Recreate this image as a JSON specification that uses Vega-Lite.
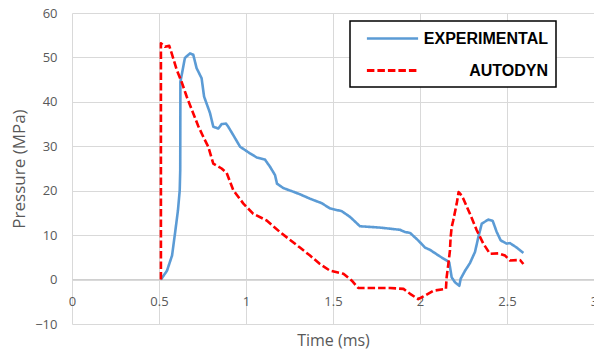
{
  "$schema": "https://vega.github.io/schema/vega-lite/v6.json",
  "width": 522,
  "height": 311,
  "autosize": {"type": "none"},
  "padding": {"left": 72, "top": 13, "right": 0, "bottom": 26},
  "background": "white",
  "config": {
    "view": {"stroke": null},
    "font": "Open Sans",
    "legend": {"strokeWidth": 1.5}
  },
  "data": {
    "values": [
      {"s": "EXPERIMENTAL", "i": 1, "t": 0.511, "p": 0},
      {"s": "EXPERIMENTAL", "i": 2, "t": 0.546, "p": 2},
      {"s": "EXPERIMENTAL", "i": 3, "t": 0.575, "p": 5.4},
      {"s": "EXPERIMENTAL", "i": 4, "t": 0.592, "p": 10.4},
      {"s": "EXPERIMENTAL", "i": 5, "t": 0.609, "p": 15.6},
      {"s": "EXPERIMENTAL", "i": 6, "t": 0.619, "p": 20},
      {"s": "EXPERIMENTAL", "i": 7, "t": 0.622, "p": 24.6},
      {"s": "EXPERIMENTAL", "i": 8, "t": 0.623, "p": 44.5},
      {"s": "EXPERIMENTAL", "i": 9, "t": 0.649, "p": 49.9},
      {"s": "EXPERIMENTAL", "i": 10, "t": 0.678, "p": 50.9},
      {"s": "EXPERIMENTAL", "i": 11, "t": 0.697, "p": 50.6},
      {"s": "EXPERIMENTAL", "i": 12, "t": 0.716, "p": 47.6},
      {"s": "EXPERIMENTAL", "i": 13, "t": 0.745, "p": 45.3},
      {"s": "EXPERIMENTAL", "i": 14, "t": 0.759, "p": 41.2},
      {"s": "EXPERIMENTAL", "i": 15, "t": 0.793, "p": 37.5},
      {"s": "EXPERIMENTAL", "i": 16, "t": 0.812, "p": 34.4},
      {"s": "EXPERIMENTAL", "i": 17, "t": 0.841, "p": 34.0},
      {"s": "EXPERIMENTAL", "i": 18, "t": 0.86, "p": 35.0},
      {"s": "EXPERIMENTAL", "i": 19, "t": 0.885, "p": 35.1},
      {"s": "EXPERIMENTAL", "i": 20, "t": 0.898, "p": 34.4},
      {"s": "EXPERIMENTAL", "i": 21, "t": 0.927, "p": 32.5},
      {"s": "EXPERIMENTAL", "i": 22, "t": 0.966, "p": 29.9},
      {"s": "EXPERIMENTAL", "i": 23, "t": 1.023, "p": 28.4},
      {"s": "EXPERIMENTAL", "i": 24, "t": 1.061, "p": 27.5},
      {"s": "EXPERIMENTAL", "i": 25, "t": 1.109, "p": 27.0},
      {"s": "EXPERIMENTAL", "i": 26, "t": 1.138, "p": 25.4},
      {"s": "EXPERIMENTAL", "i": 27, "t": 1.167, "p": 23.5},
      {"s": "EXPERIMENTAL", "i": 28, "t": 1.178, "p": 21.6},
      {"s": "EXPERIMENTAL", "i": 29, "t": 1.214, "p": 20.6},
      {"s": "EXPERIMENTAL", "i": 30, "t": 1.27, "p": 19.8},
      {"s": "EXPERIMENTAL", "i": 31, "t": 1.31, "p": 19.2},
      {"s": "EXPERIMENTAL", "i": 32, "t": 1.368, "p": 18.2},
      {"s": "EXPERIMENTAL", "i": 33, "t": 1.435, "p": 17.2},
      {"s": "EXPERIMENTAL", "i": 34, "t": 1.483, "p": 16.0},
      {"s": "EXPERIMENTAL", "i": 35, "t": 1.55, "p": 15.4},
      {"s": "EXPERIMENTAL", "i": 36, "t": 1.598, "p": 14.1},
      {"s": "EXPERIMENTAL", "i": 37, "t": 1.655, "p": 12.0},
      {"s": "EXPERIMENTAL", "i": 38, "t": 1.77, "p": 11.7},
      {"s": "EXPERIMENTAL", "i": 39, "t": 1.885, "p": 11.2},
      {"s": "EXPERIMENTAL", "i": 40, "t": 1.914, "p": 10.7},
      {"s": "EXPERIMENTAL", "i": 41, "t": 1.943, "p": 10.5},
      {"s": "EXPERIMENTAL", "i": 42, "t": 1.99, "p": 8.8},
      {"s": "EXPERIMENTAL", "i": 43, "t": 2.029, "p": 7.2},
      {"s": "EXPERIMENTAL", "i": 44, "t": 2.057, "p": 6.7},
      {"s": "EXPERIMENTAL", "i": 45, "t": 2.115, "p": 5.2},
      {"s": "EXPERIMENTAL", "i": 46, "t": 2.153, "p": 4.3},
      {"s": "EXPERIMENTAL", "i": 47, "t": 2.168, "p": 3.9},
      {"s": "EXPERIMENTAL", "i": 48, "t": 2.182, "p": 0.5},
      {"s": "EXPERIMENTAL", "i": 49, "t": 2.201, "p": -0.6},
      {"s": "EXPERIMENTAL", "i": 50, "t": 2.226, "p": -1.4},
      {"s": "EXPERIMENTAL", "i": 51, "t": 2.234, "p": 0.2},
      {"s": "EXPERIMENTAL", "i": 52, "t": 2.259, "p": 2.0},
      {"s": "EXPERIMENTAL", "i": 53, "t": 2.287, "p": 3.7},
      {"s": "EXPERIMENTAL", "i": 54, "t": 2.316, "p": 6.2},
      {"s": "EXPERIMENTAL", "i": 55, "t": 2.335, "p": 9.5},
      {"s": "EXPERIMENTAL", "i": 56, "t": 2.355, "p": 12.6},
      {"s": "EXPERIMENTAL", "i": 57, "t": 2.393, "p": 13.5},
      {"s": "EXPERIMENTAL", "i": 58, "t": 2.418, "p": 13.2},
      {"s": "EXPERIMENTAL", "i": 59, "t": 2.441, "p": 10.7},
      {"s": "EXPERIMENTAL", "i": 60, "t": 2.464, "p": 8.8},
      {"s": "EXPERIMENTAL", "i": 61, "t": 2.498, "p": 8.1},
      {"s": "EXPERIMENTAL", "i": 62, "t": 2.517, "p": 8.2},
      {"s": "EXPERIMENTAL", "i": 63, "t": 2.556, "p": 7.2},
      {"s": "EXPERIMENTAL", "i": 64, "t": 2.594, "p": 6.0},
      {"s": "AUTODYN", "i": 1, "t": 0.511, "p": 0},
      {"s": "AUTODYN", "i": 2, "t": 0.511, "p": 53.2},
      {"s": "AUTODYN", "i": 3, "t": 0.534, "p": 52.4},
      {"s": "AUTODYN", "i": 4, "t": 0.559, "p": 52.6},
      {"s": "AUTODYN", "i": 5, "t": 0.573, "p": 50.9},
      {"s": "AUTODYN", "i": 6, "t": 0.602, "p": 47.2},
      {"s": "AUTODYN", "i": 7, "t": 0.63, "p": 44.5},
      {"s": "AUTODYN", "i": 8, "t": 0.659, "p": 41.2},
      {"s": "AUTODYN", "i": 9, "t": 0.697, "p": 37.4},
      {"s": "AUTODYN", "i": 10, "t": 0.726, "p": 34.5},
      {"s": "AUTODYN", "i": 11, "t": 0.755, "p": 32.1},
      {"s": "AUTODYN", "i": 12, "t": 0.783, "p": 29.9},
      {"s": "AUTODYN", "i": 13, "t": 0.812, "p": 26.1},
      {"s": "AUTODYN", "i": 14, "t": 0.86, "p": 25.0},
      {"s": "AUTODYN", "i": 15, "t": 0.889, "p": 24.0},
      {"s": "AUTODYN", "i": 16, "t": 0.927, "p": 20.1},
      {"s": "AUTODYN", "i": 17, "t": 0.985, "p": 17.1},
      {"s": "AUTODYN", "i": 18, "t": 1.042, "p": 14.8},
      {"s": "AUTODYN", "i": 19, "t": 1.119, "p": 13.3},
      {"s": "AUTODYN", "i": 20, "t": 1.195, "p": 10.7},
      {"s": "AUTODYN", "i": 21, "t": 1.31, "p": 7.2},
      {"s": "AUTODYN", "i": 22, "t": 1.368, "p": 5.4},
      {"s": "AUTODYN", "i": 23, "t": 1.425, "p": 3.5},
      {"s": "AUTODYN", "i": 24, "t": 1.483, "p": 2.0},
      {"s": "AUTODYN", "i": 25, "t": 1.56, "p": 1.3},
      {"s": "AUTODYN", "i": 26, "t": 1.607, "p": -0.2},
      {"s": "AUTODYN", "i": 27, "t": 1.645, "p": -1.9},
      {"s": "AUTODYN", "i": 28, "t": 1.828, "p": -1.9},
      {"s": "AUTODYN", "i": 29, "t": 1.905, "p": -2.1},
      {"s": "AUTODYN", "i": 30, "t": 1.943, "p": -3.2},
      {"s": "AUTODYN", "i": 31, "t": 1.99, "p": -4.4},
      {"s": "AUTODYN", "i": 32, "t": 2.019, "p": -3.8},
      {"s": "AUTODYN", "i": 33, "t": 2.077, "p": -2.5},
      {"s": "AUTODYN", "i": 34, "t": 2.149, "p": -2.1},
      {"s": "AUTODYN", "i": 35, "t": 2.153, "p": 0.5},
      {"s": "AUTODYN", "i": 36, "t": 2.163, "p": 3.5},
      {"s": "AUTODYN", "i": 37, "t": 2.172, "p": 6.5},
      {"s": "AUTODYN", "i": 38, "t": 2.176, "p": 9.5},
      {"s": "AUTODYN", "i": 39, "t": 2.182, "p": 11.8},
      {"s": "AUTODYN", "i": 40, "t": 2.191, "p": 13.3},
      {"s": "AUTODYN", "i": 41, "t": 2.211, "p": 17.1},
      {"s": "AUTODYN", "i": 42, "t": 2.222, "p": 19.7},
      {"s": "AUTODYN", "i": 43, "t": 2.232, "p": 19.3},
      {"s": "AUTODYN", "i": 44, "t": 2.249, "p": 18.2},
      {"s": "AUTODYN", "i": 45, "t": 2.287, "p": 14.8},
      {"s": "AUTODYN", "i": 46, "t": 2.326, "p": 11.1},
      {"s": "AUTODYN", "i": 47, "t": 2.364, "p": 8.1},
      {"s": "AUTODYN", "i": 48, "t": 2.402, "p": 5.8},
      {"s": "AUTODYN", "i": 49, "t": 2.45, "p": 5.9},
      {"s": "AUTODYN", "i": 50, "t": 2.489, "p": 5.4},
      {"s": "AUTODYN", "i": 51, "t": 2.517, "p": 4.3},
      {"s": "AUTODYN", "i": 52, "t": 2.575, "p": 4.4},
      {"s": "AUTODYN", "i": 53, "t": 2.594, "p": 3.5}
    ]
  },
  "mark": {"type": "line", "strokeWidth": 2.6, "strokeJoin": "round", "strokeCap": "butt"},
  "encoding": {
    "x": {
      "field": "t", "type": "quantitative",
      "scale": {"domain": [0, 3], "nice": false, "zero": false},
      "axis": {
        "title": "Time (ms)",
        "values": [0, 0.5, 1, 1.5, 2, 2.5, 3],
        "format": "~g",
        "offset": -45,
        "domain": true, "domainColor": "#D0D0D0", "domainWidth": 1,
        "ticks": false,
        "grid": true, "gridColor": "#D9D9D9", "gridWidth": 1,
        "labelFont": "Open Sans", "labelFontSize": 13, "labelColor": "#595959",
        "labelPadding": 16, "labelFlush": false,
        "titleFont": "Open Sans", "titleFontSize": 16, "titleFontWeight": "normal", "titleColor": "#595959",
        "titlePadding": 24
      }
    },
    "y": {
      "field": "p", "type": "quantitative",
      "scale": {"domain": [-10, 60], "nice": false, "zero": false},
      "axis": {
        "title": "Pressure (MPa)",
        "values": [-10, 0, 10, 20, 30, 40, 50, 60],
        "domain": false, "ticks": false,
        "grid": true, "gridColor": "#D9D9D9", "gridWidth": 1,
        "labelFont": "Open Sans", "labelFontSize": 13, "labelColor": "#595959",
        "labelPadding": 15,
        "titleFont": "Open Sans", "titleFontSize": 17, "titleFontWeight": "normal", "titleColor": "#595959",
        "titlePadding": 6
      }
    },
    "color": {
      "field": "s", "type": "nominal",
      "scale": {"domain": ["EXPERIMENTAL", "AUTODYN"], "range": ["#5B9BD5", "#FF0000"]},
      "legend": {
        "title": null,
        "orient": "none",
        "legendX": 278,
        "legendY": 8,
        "strokeColor": "#000000",
        "fillColor": "#FFFFFF",
        "padding": 8,
        "symbolType": "M-3.2,0H3.2",
        "symbolSize": 256,
        "symbolStrokeWidth": 5,
        "symbolOffset": 25,
        "rowPadding": 14,
        "labelFont": "Liberation Sans",
        "labelFontSize": 16,
        "labelFontWeight": "bold",
        "labelColor": "#000000",
        "labelAlign": "right",
        "labelOffset": 146,
        "labelLimit": 300
      }
    },
    "strokeDash": {
      "field": "s", "type": "nominal",
      "scale": {"domain": ["EXPERIMENTAL", "AUTODYN"], "range": [[1, 0], [7.5, 3]]},
      "legend": null
    },
    "strokeWidth": {
      "field": "s", "type": "nominal",
      "scale": {"domain": ["EXPERIMENTAL", "AUTODYN"], "range": [2.5, 3]},
      "legend": null
    },
    "order": {"field": "i", "type": "quantitative"}
  }
}
